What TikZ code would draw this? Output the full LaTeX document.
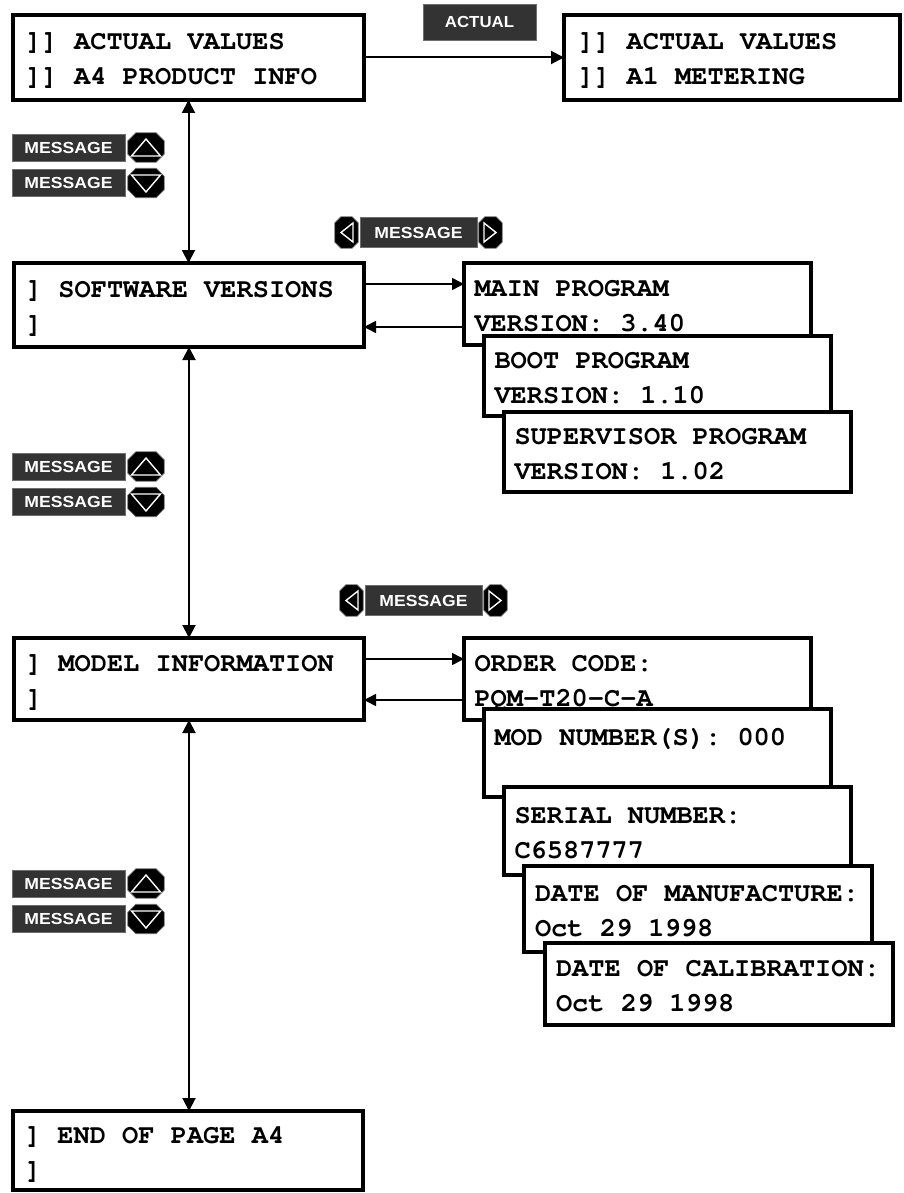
\documentclass[tikz,border=0pt]{standalone}
\usepackage[T1]{fontenc}
\usepackage{fontspec}
\usepackage{graphicx}
\usetikzlibrary{arrows.meta}
\newfontfamily\keyfont{Liberation Sans}
% bold Courier for the display text
\newcommand\lcdfont{\fontencoding{T1}\fontfamily{pcr}\fontseries{b}\fontshape{n}%
  \fontsize{27}{35}\selectfont\frenchspacing}
\definecolor{keygray}{HTML}{333333}
\definecolor{keyedge}{HTML}{6E6E6E}

% two display lines with fixed strut height/depth and one-cell word spaces
\newcommand\lcd[2]{\spaceskip=0.6em\relax\xspaceskip=0.6em\relax
  \rule{0pt}{26pt}#1\\#2\rule[-6pt]{0pt}{6pt}}
% black octagonal key cap around an invisible node
\newcommand\keyoct[2]{\filldraw[fill=black, draw=keyedge, line width=0.8pt]
  ([xshift=#2]#1.north west) -- ([xshift=-#2]#1.north east) --
  ([yshift=-#2]#1.north east) -- ([yshift=#2]#1.south east) --
  ([xshift=-#2]#1.south east) -- ([xshift=#2]#1.south west) --
  ([yshift=#2]#1.south west) -- ([yshift=-#2]#1.north west) -- cycle;}

\begin{document}
\begin{tikzpicture}[x=1pt,y=-1pt,
  screen/.style={draw, line width=4.5pt, fill=white, anchor=north west,
    outer sep=0pt, inner xsep=10pt, inner ysep=0pt, align=left, text width=326pt,
    font=\lcdfont},
  link/.style={line width=2pt, -{Triangle[length=13pt,width=13pt]}},
  vlink/.style={line width=2pt, {Triangle[length=13pt,width=13pt]}-{Triangle[length=13pt,width=13pt]}},
  side/.style={line width=1.5pt, -{Triangle[length=12pt,width=12pt]}},
  keybtn/.style={fill=keygray, draw=keyedge, line width=0.8pt, text=white,
    inner sep=0pt, font=\keyfont\bfseries\fontsize{16}{16}\selectfont},
  keyicon/.style={inner sep=0pt},
  keytri/.style={draw=white, line width=1.4pt, line join=miter}
]
\useasboundingbox (0,0) rectangle (904,1193);

% ---- display screens ----
\node[screen, minimum width=351pt, minimum height=85pt] (b1) at (13,15)
  {\lcd{]] ACTUAL VALUES}{]] A4 PRODUCT INFO}};
\node[screen, minimum width=336pt, minimum height=85pt, text width=308pt] (b2) at (564,15)
  {\lcd{]] ACTUAL VALUES}{]] A1 METERING}};

\node[screen, minimum width=350pt, minimum height=84pt] (sw) at (14,263)
  {\lcd{] SOFTWARE VERSIONS}{]}};
\node[screen, minimum width=347pt, minimum height=82pt] (main) at (464,263)
  {\lcd{MAIN PROGRAM}{VERSION: 3.40}};
\node[screen, minimum width=347pt, minimum height=80pt] (boot) at (484,336)
  {\lcd{BOOT PROGRAM}{VERSION: 1.10}};
\node[screen, minimum width=347pt, minimum height=80pt] (super) at (504,412)
  {\lcd{SUPERVISOR PROGRAM}{VERSION: 1.02}};

\node[screen, minimum width=350pt, minimum height=82pt] (model) at (14,638)
  {\lcd{] MODEL INFORMATION}{]}};
\node[screen, minimum width=347pt, minimum height=82pt] (order) at (464,638)
  {\lcd{ORDER CODE:}{PQM-T20-C-A}};
\node[screen, minimum width=347pt, minimum height=88pt] (modnum) at (484,709)
  {\lcd{MOD NUMBER(S): 000}{}};
\node[screen, minimum width=347pt, minimum height=88pt] (serial) at (504,787)
  {\lcd{SERIAL NUMBER:}{C6587777}};
\node[screen, minimum width=348pt, minimum height=86pt] (manu) at (524,866)
  {\lcd{DATE OF MANUFACTURE:}{Oct 29 1998}};
\node[screen, minimum width=348pt, minimum height=82pt] (calib) at (545,943)
  {\lcd{DATE OF CALIBRATION:}{Oct 29 1998}};

\node[screen, minimum width=350pt, minimum height=79pt] (endp) at (13,1111)
  {\lcd{] END OF PAGE A4}{]}};

% ---- connectors ----
\draw[link] (b1.east) -- (b2.west);
\draw[vlink] (b1.south) -- (b1.south |- sw.north);
\draw[vlink] (sw.south) -- (sw.south |- model.north);
\draw[vlink] (model.south) -- (model.south |- endp.north);

\draw[side] (sw.east |- 0,284) -- (main.west |- 0,284);
\draw[side] (main.west |- 0,327) -- (sw.east |- 0,327);
\draw[side] (model.east |- 0,659) -- (order.west |- 0,659);
\draw[side] (order.west |- 0,700) -- (model.east |- 0,700);

% ---- keys ----
\node[keybtn, minimum width=113pt, minimum height=36pt] (act) at (479.5,22)
  {\scalebox{1.05}[1]{ACTUAL}};

\foreach \g/\dy in {1/0, 2/319, 3/736}{
  \node[keybtn, minimum width=113pt, minimum height=27pt] (mu\g) at (68.5,147.5+\dy)
    {\scalebox{1.1}[1]{MESSAGE}};
  \node[keyicon, minimum width=36pt, minimum height=29pt] (iu\g) at (146,147.5+\dy) {};
  \keyoct{iu\g}{8pt}
  \draw[keytri] ([shift={(0,-8.5)}]iu\g.center) -- ++(14.5,17) -- ++(-29,0) -- cycle;
  \node[keybtn, minimum width=113pt, minimum height=27pt] (md\g) at (68.5,183+\dy)
    {\scalebox{1.1}[1]{MESSAGE}};
  \node[keyicon, minimum width=36pt, minimum height=29pt] (id\g) at (146,183+\dy) {};
  \keyoct{id\g}{8pt}
  \draw[keytri] ([shift={(0,9)}]id\g.center) -- ++(14.5,-17) -- ++(-29,0) -- cycle;
}

\foreach \g/\dx/\dy in {1/0/0, 2/5/368}{
  \node[keyicon, minimum width=23pt, minimum height=31pt] (il\g) at (346.5+\dx,232.5+\dy) {};
  \keyoct{il\g}{6pt}
  \draw[keytri] ([shift={(-5.5,0)}]il\g.center) -- ++(12,-9.5) -- ++(0,19) -- cycle;
  \node[keybtn, minimum width=117pt, minimum height=30pt] (ml\g) at (418.5+\dx,232.5+\dy)
    {\scalebox{1.1}[1]{MESSAGE}};
  \node[keyicon, minimum width=23pt, minimum height=31pt] (ir\g) at (490.5+\dx,232.5+\dy) {};
  \keyoct{ir\g}{6pt}
  \draw[keytri] ([shift={(5.5,0)}]ir\g.center) -- ++(-12,-9.5) -- ++(0,19) -- cycle;
}
\end{tikzpicture}
\end{document}
